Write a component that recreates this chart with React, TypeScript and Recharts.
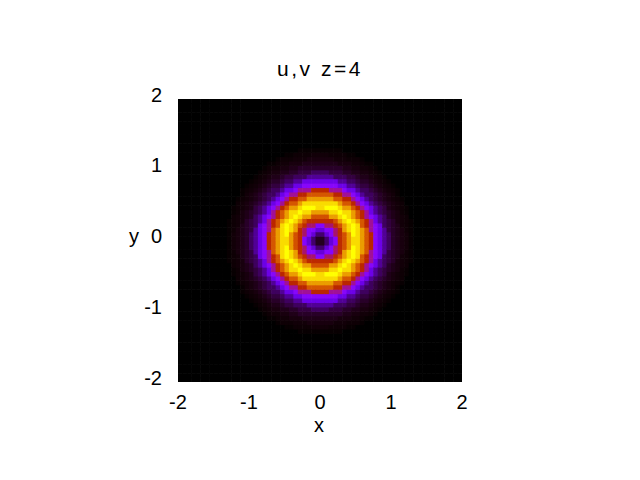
import { ScatterChart, Scatter, XAxis, YAxis } from 'recharts';

// 반경별 세기 (그림에서 읽은 값, 0..1 로 정규화)
const RADII = [
  0, 0.05, 0.1, 0.15, 0.2, 0.25, 0.3, 0.35, 0.4, 0.45, 0.5, 0.55, 0.6, 0.65, 0.7, 0.75,
  0.8, 0.85, 0.9, 0.95, 1.0, 1.05, 1.1, 1.15, 1.2, 1.25, 1.3, 1.35, 1.4, 1.45, 1.5,
];
const PROFILE = [
  0, 0.02, 0.07, 0.16, 0.27, 0.43, 0.55, 0.68, 0.85, 0.95, 1.0, 0.95, 0.85, 0.7, 0.53, 0.4,
  0.28, 0.18, 0.1, 0.06, 0.04, 0.025, 0.015, 0.009, 0.005, 0.003, 0.001, 0, 0, 0, 0,
];
const TICKS = [-2, -1, 0, 1, 2];
const GRID_N = 64;
const RANGE: [number, number] = [-2, 2];

// 방사형 프로파일에서 가장 가까운 반경 값을 찾는다
function lookup(r: number) {
  const step = RADII[1] - RADII[0];
  const i = Math.round(r / step);
  return i < PROFILE.length ? PROFILE[i] : 0;
}

// gnuplot 기본 팔레트 (rgbformulae 7,5,15)
function palette(g: number) {
  const r = Math.sqrt(g);
  const gg = g * g * g;
  const b = Math.max(0, Math.sin(2 * Math.PI * g));
  const c = (v: number) => Math.round(Math.min(1, Math.max(0, v)) * 255);
  return `rgb(${c(r)},${c(gg)},${c(b)})`;
}

const cellSize = (RANGE[1] - RANGE[0]) / GRID_N;
const cells: { x: number; y: number; v: number }[] = [];
for (let i = 0; i < GRID_N; i++) {
  for (let j = 0; j < GRID_N; j++) {
    const x = RANGE[0] + (i + 0.5) * cellSize;
    const y = RANGE[0] + (j + 0.5) * cellSize;
    cells.push({ x, y, v: lookup(Math.sqrt(x * x + y * y)) });
  }
}

const W = 640;
const H = 480;
const M = { top: 99, right: 178, bottom: 0, left: 0 };
const PLOT_W = W - 178 - M.right;
const PX = (PLOT_W / (RANGE[1] - RANGE[0])) * cellSize;
const FONT = '"Liberation Sans", Arial, sans-serif';
const FS = 20;

function Cell(props: any) {
  const { cx, cy, payload } = props;
  return (
    <rect
      x={cx - PX / 2}
      y={cy - PX / 2}
      width={PX + 0.6}
      height={PX + 0.6}
      fill={palette(payload.v)}
    />
  );
}

function XTick({ x, y, payload }: any) {
  return (
    <text x={x} y={y + 21} textAnchor="middle" fontSize={FS} fontFamily={FONT} fill="#000">
      {payload.value}
    </text>
  );
}

function YTick({ x, y, payload }: any) {
  return (
    <text x={x} y={y + 2.5} textAnchor="end" fontSize={FS} fontFamily={FONT} fill="#000">
      {payload.value}
    </text>
  );
}

export default function App() {
  return (
    <div style={{ position: 'absolute', left: 0, top: 0, width: W, height: H, background: '#fff' }}>
      <svg
        width={W}
        height={100}
        style={{ position: 'absolute', left: 0, top: 0, pointerEvents: 'none' }}
      >
        <text
          x={320}
          y={76}
          textAnchor="middle"
          fontSize={21}
          fontFamily={FONT}
          letterSpacing={2.5}
          fill="#000"
        >
          u,v z=4
        </text>
      </svg>
      <ScatterChart width={W} height={H} margin={M}>
        <XAxis
          type="number"
          dataKey="x"
          domain={RANGE}
          ticks={TICKS}
          axisLine={false}
          tickLine={false}
          tickSize={0}
          tickMargin={6}
          height={98}
          tick={<XTick />}
          allowDataOverflow
          label={{
            content: () => (
              <text x={319} y={432} textAnchor="middle" fontSize={FS} fontFamily={FONT} fill="#000">
                x
              </text>
            ),
          }}
        />
        <YAxis
          type="number"
          dataKey="y"
          domain={RANGE}
          ticks={TICKS}
          axisLine={false}
          tickLine={false}
          tickSize={0}
          tickMargin={16}
          width={178}
          tick={<YTick />}
          allowDataOverflow
          label={{
            content: () => (
              <text x={134} y={243} textAnchor="middle" fontSize={FS} fontFamily={FONT} fill="#000">
                y
              </text>
            ),
          }}
        />
        <Scatter data={cells} shape={<Cell />} isAnimationActive={false} />
      </ScatterChart>
    </div>
  );
}
